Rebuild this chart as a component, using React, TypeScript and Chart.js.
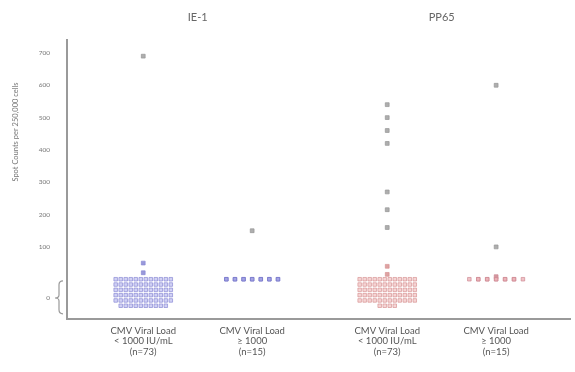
import React, { useEffect, useRef } from "react";
import { Chart, registerables } from "chart.js";
Chart.register(...registerables);

// ---- data ----
const panelTitles = ["IE-1", "PP65"];
const groupLabels = [
  ["CMV Viral Load", "< 1000 IU/mL", "(n=73)"],
  ["CMV Viral Load", "≥ 1000", "(n=15)"],
  ["CMV Viral Load", "< 1000 IU/mL", "(n=73)"],
  ["CMV Viral Load", "≥ 1000", "(n=15)"],
];
const groupPositions = [1, 2, 3.24, 4.24];
const groupSizes = [73, 15, 73, 15];
const ie1LowNonZero = [690, 50, 20];
const ie1HighNonZero = [150];
const pp65LowNonZero = [540, 500, 460, 420, 270, 215, 160, 40, 15];
const pp65HighNonZero = [600, 100, 8];
const yTickValues = [0, 100, 200, 300, 400, 500, 600, 700];
const yTitle = "Spot Counts per 250,000 cells";
const zeroBandValue = -58; // where the compressed "0" band is labelled

// swarm layout of the zero values (columns, spacing in data units)
const swarmColumns = [12, 7, 12, 7];
const swarmDx = [0.046, 0.079, 0.046, 0.082];
const swarmDy = [16.4, 0, 16.4, 0];

const groupFill = [
  "rgba(190,190,240,0.7)",
  "rgba(160,160,228,0.8)",
  "rgba(240,190,190,0.65)",
  "rgba(235,175,180,0.75)",
];
const groupBorder = [
  "rgba(135,135,212,0.85)",
  "rgba(115,115,200,0.85)",
  "rgba(212,140,140,0.8)",
  "rgba(205,135,145,0.85)",
];

const nonZeroByGroup = [ie1LowNonZero, ie1HighNonZero, pp65LowNonZero, pp65HighNonZero];

function swarm(g: number) {
  const nZero = groupSizes[g] - nonZeroByGroup[g].length;
  const cols = swarmColumns[g];
  const pts: { x: number; y: number }[] = [];
  for (let i = 0; i < nZero; i++) {
    const row = Math.floor(i / cols);
    const inRow = Math.min(cols, nZero - row * cols);
    const c = i % cols;
    pts.push({
      x: groupPositions[g] + (c - (inRow - 1) / 2) * swarmDx[g],
      y: 0 - row * swarmDy[g],
    });
  }
  return pts;
}

const decorPlugin = {
  id: "decor",
  afterDraw(chart: any) {
    const { ctx, scales } = chart;
    const xs = scales.x;
    const ys = scales.y;
    ctx.save();
    // panel titles
    ctx.fillStyle = "#666";
    ctx.font = "11px Lato";
    ctx.textAlign = "center";
    ctx.textBaseline = "middle";
    const t1 = (xs.getPixelForValue(groupPositions[0]) + xs.getPixelForValue(groupPositions[1])) / 2;
    const t2 = (xs.getPixelForValue(groupPositions[2]) + xs.getPixelForValue(groupPositions[3])) / 2;
    ctx.fillText(panelTitles[0], t1, 17);
    ctx.fillText(panelTitles[1], t2, 17);
    // y title
    ctx.save();
    ctx.translate(16, 132);
    ctx.rotate(-Math.PI / 2);
    ctx.font = "7.5px Lato";
    ctx.fillStyle = "#777";
    ctx.fillText(yTitle, 0, 0);
    ctx.restore();
    // brace for zero band
    const top = ys.getPixelForValue(-5);
    const bot = ys.getPixelForValue(-107);
    const mid = ys.getPixelForValue(zeroBandValue);
    const xr = 63, xm = 59, xt = 55;
    ctx.strokeStyle = "#999";
    ctx.lineWidth = 1.2;
    ctx.beginPath();
    ctx.moveTo(xr, top);
    ctx.quadraticCurveTo(xm, top, xm, top + 4);
    ctx.lineTo(xm, mid - 3);
    ctx.quadraticCurveTo(xm, mid, xt, mid);
    ctx.quadraticCurveTo(xm, mid, xm, mid + 3);
    ctx.lineTo(xm, bot - 4);
    ctx.quadraticCurveTo(xm, bot, xr, bot);
    ctx.stroke();
    ctx.restore();
  },
};

export default function App() {
  const ref = useRef<HTMLCanvasElement | null>(null);
  useEffect(() => {
    if (!ref.current) return;
    const datasets: any[] = [];
    for (let g = 0; g < 4; g++) {
      datasets.push({
        data: swarm(g),
        pointStyle: "rect",
        pointRadius: 2.5,
        backgroundColor: groupFill[g],
        borderColor: groupBorder[g],
        borderWidth: 0.8,
      });
      const nz = nonZeroByGroup[g];
      datasets.push({
        data: nz.map((v) => ({ x: groupPositions[g], y: v })),
        pointStyle: "rect",
        pointRadius: 2.7,
        backgroundColor: nz.map((v) => (v < 100 ? groupBorder[g] : "rgba(160,160,160,0.85)")),
        borderColor: nz.map((v) => (v < 100 ? groupBorder[g] : "rgba(150,150,150,0.9)")),
        borderWidth: 0.8,
      });
    }
    const chart = new Chart(ref.current, {
      type: "scatter",
      data: { datasets },
      options: {
        animation: false,
        responsive: false,
        layout: { padding: { top: 40, right: 0, left: 0, bottom: 0 } },
        plugins: { legend: { display: false }, tooltip: { enabled: false } },
        scales: {
          x: {
            type: "linear",
            min: 0.3,
            max: 4.92,
            grid: { display: false, drawTicks: false },
            border: { color: "#9a9a9a", width: 2 },
            afterBuildTicks: (s: any) => {
              s.ticks = groupPositions.map((v) => ({ value: v }));
            },
            afterFit: (s: any) => {
              s.height = 53;
            },
            ticks: {
              padding: 6,
              color: "#555",
              font: { family: "Lato", size: 9.5, lineHeight: 1.15 },
              maxRotation: 0,
              autoSkip: false,
              callback: (v: any) => {
                const i = groupPositions.indexOf(Number(v));
                return i >= 0 ? groupLabels[i] : "";
              },
            },
          },
          y: {
            type: "linear",
            min: -123,
            max: 740,
            grid: { display: false, drawTicks: false },
            border: { color: "#9a9a9a", width: 2 },
            afterBuildTicks: (s: any) => {
              s.ticks = yTickValues.map((v) => ({ value: v === 0 ? zeroBandValue : v }));
            },
            afterFit: (s: any) => {
              s.width = 67;
            },
            ticks: {
              padding: 17,
              color: "#777",
              font: { family: "Lato", size: 6.5 },
              callback: (v: any) => (Number(v) < 0 ? "0" : String(v)),
            },
          },
        },
      },
      plugins: [decorPlugin],
    });
    return () => chart.destroy();
  }, []);
  return (
    <div style={{ position: "absolute", left: 0, top: 0, width: 575, height: 372, background: "#fff" }}>
      <canvas ref={ref} width={575} height={372} />
    </div>
  );
}
